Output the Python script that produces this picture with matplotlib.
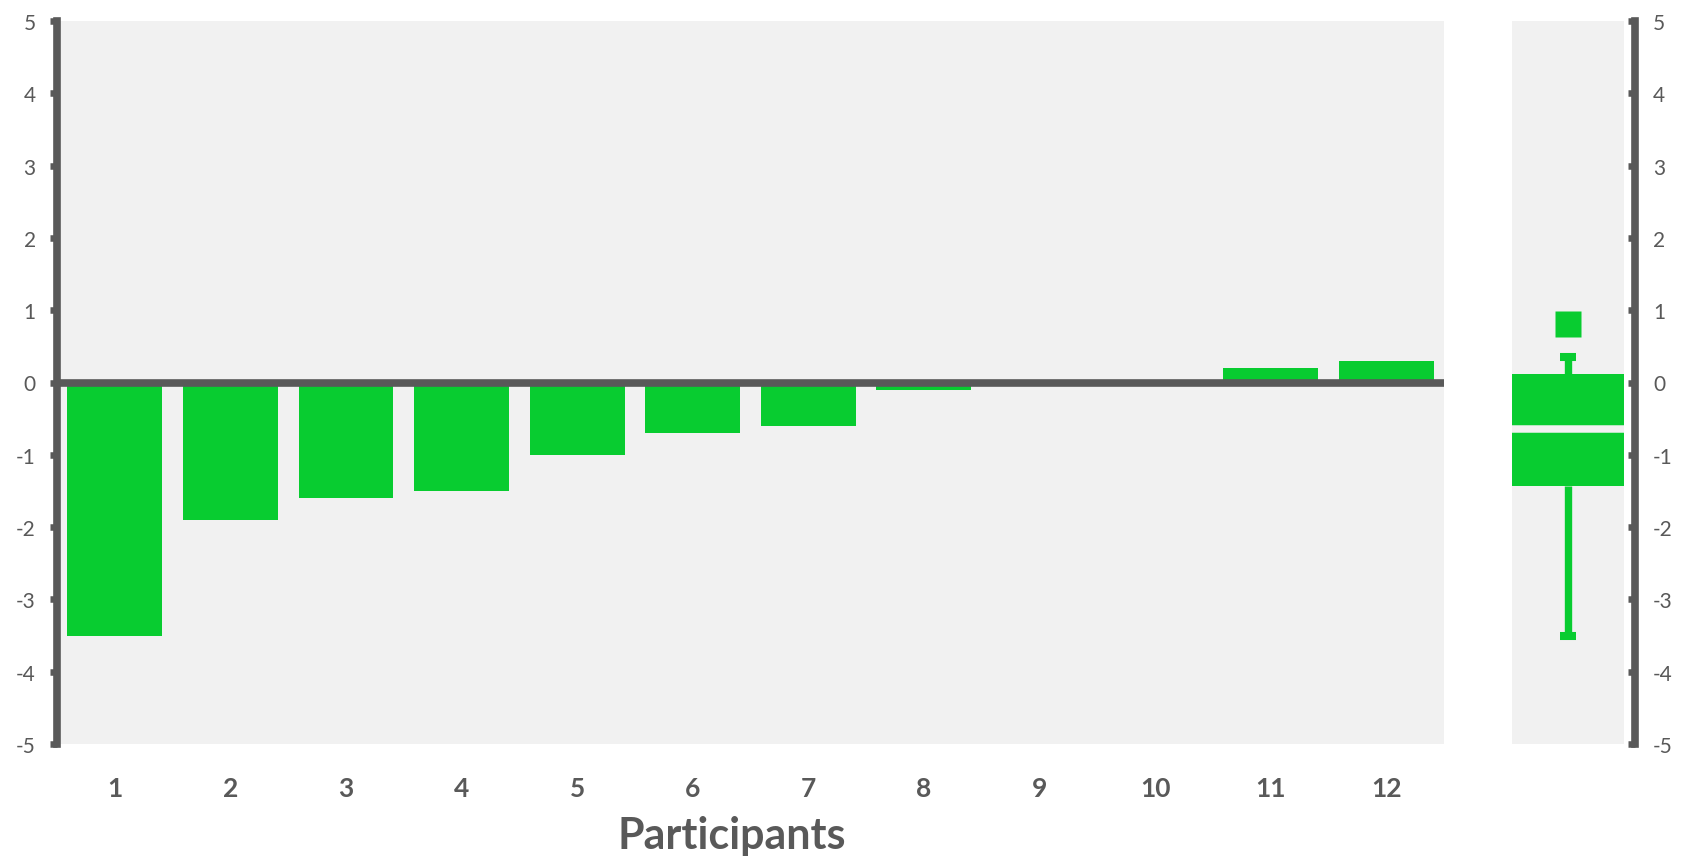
import numpy as np
import matplotlib
matplotlib.use("Agg")
import matplotlib.pyplot as plt

# data
participants = [str(i) for i in range(1, 13)]
scores = [-3.5, -1.9, -1.6, -1.5, -1.0, -0.7, -0.6, -0.1, 0.0, 0.0, 0.2, 0.3]

# summary shown in the side panel
box_q1 = -1.43
box_median = -0.65
box_q3 = 0.12
whisker_low = -3.5
whisker_high = 0.35
outliers = [0.81]

y_ticks = [-5, -4, -3, -2, -1, 0, 1, 2, 3, 4, 5]

GREEN = "#08cc30"
GREY = "#595959"
PANEL = "#f1f1f1"

plt.rcParams["font.family"] = ["Lato", "DejaVu Sans"]

fig = plt.figure(figsize=(16.84, 8.62), dpi=100)

W, H = 1684, 862
ax = fig.add_axes([57 / W, 1 - 745 / H, (1444 - 57) / W, (745 - 22) / H])
ax2 = fig.add_axes([1512 / W, 1 - 745 / H, (1624 - 1512) / W, (745 - 22) / H])

# main bar panel
x = np.arange(1, len(scores) + 1)
ax.set_facecolor(PANEL)
ax.bar(x, scores, width=0.82, color=GREEN, zorder=2)
ax.axhline(0, color=GREY, lw=5.5, zorder=3)
ax.set_xlim(0.5, 12.5)
ax.set_ylim(-5, 5)
ax.set_xticks(x)
ax.set_xticklabels(participants, fontsize=19, fontweight="bold", color=GREY)
ax.set_yticks(y_ticks)
ax.set_yticklabels([str(t) for t in y_ticks])
for s in ["top", "right", "bottom"]:
    ax.spines[s].set_visible(False)
ax.spines["left"].set_color(GREY)
ax.spines["left"].set_linewidth(5.5)
ax.tick_params(axis="y", direction="out", length=5.3, width=4.7, color=GREY,
               pad=10, labelsize=15, labelcolor=GREY)
ax.tick_params(axis="x", length=0, pad=23)

fig.text(732 / W, 1 - 836 / H, "Participants", fontsize=31, fontweight="bold",
         color=GREY, ha="center", va="center")

# side box panel
ax2.set_facecolor(PANEL)
stats = [dict(med=box_median, q1=box_q1, q3=box_q3,
              whislo=whisker_low, whishi=whisker_high, fliers=outliers)]
ax2.bxp(stats, positions=[1], widths=1.0, capwidths=0.15, patch_artist=True,
        boxprops=dict(facecolor=GREEN, edgecolor="none", linewidth=0),
        medianprops=dict(color=PANEL, linewidth=5.4, solid_capstyle="butt"),
        whiskerprops=dict(color=GREEN, linewidth=5.3, solid_capstyle="butt"),
        capprops=dict(color=GREEN, linewidth=5.8, solid_capstyle="butt"),
        flierprops=dict(marker="s", markersize=18.5, markerfacecolor=GREEN,
                        markeredgecolor="none"))
ax2.set_xlim(0.5, 1.5)
ax2.set_ylim(-5, 5)
ax2.set_xticks([])
ax2.yaxis.tick_right()
ax2.set_yticks(y_ticks)
ax2.set_yticklabels([str(t) for t in y_ticks])
for s in ["top", "left", "bottom"]:
    ax2.spines[s].set_visible(False)
ax2.spines["right"].set_position(("outward", 8))
ax2.spines["right"].set_color(GREY)
ax2.spines["right"].set_linewidth(5.5)
ax2.tick_params(axis="y", direction="in", length=5.3, width=4.7, color=GREY,
                pad=13, labelsize=15, labelcolor=GREY)

fig.savefig("out.png", dpi=100)
